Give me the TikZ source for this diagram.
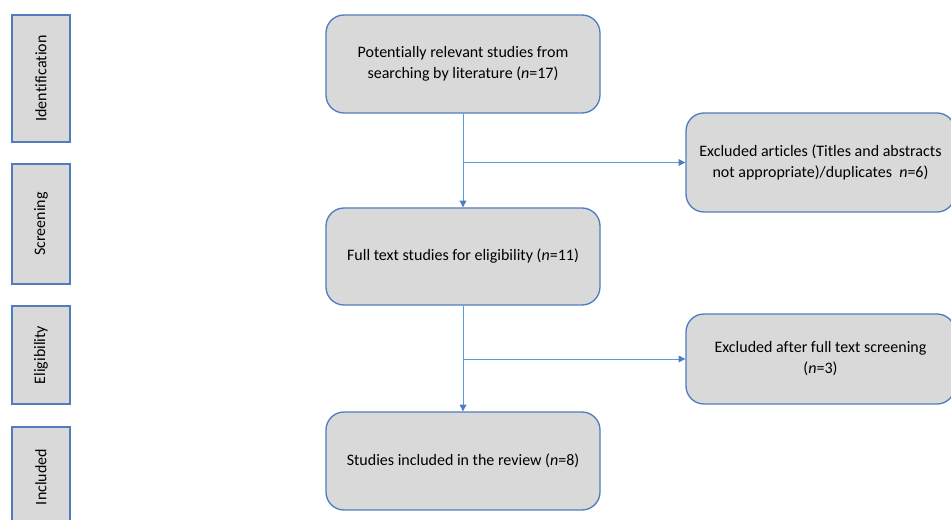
\documentclass[tikz,border=0pt]{standalone}
\usepackage{fontspec}
\setmainfont{Carlito}[Ligatures=NoCommon]
\usetikzlibrary{arrows.meta}
\definecolor{boxfill}{HTML}{D9D9D9}
\definecolor{boxline}{HTML}{4F7DBF}
\definecolor{linkblue}{HTML}{5B9BD5}
\begin{document}
\begin{tikzpicture}[x=0.75pt,y=-0.75pt,
    stage/.style={draw=boxline,fill=boxfill,line width=1pt,minimum width=43.5pt,inner sep=0pt,
      font=\fontsize{12}{15.75}\selectfont},
    stepbox/.style={draw=boxline,fill=boxfill,line width=1pt,rounded corners=13.5pt,align=center,
      minimum width=205.5pt,minimum height=73.5pt,font=\fontsize{12}{15.75}\selectfont},
    link/.style={draw=linkblue,line width=0.7pt,-{Triangle[width=5pt,length=5pt,color=boxline]}}]
      \useasboundingbox (0,0) rectangle (951,520);
      % stages on the left
      \node[stage,minimum height=95.25pt] (ident) at (41,78.5) {\rotatebox{90}{Identification}};
      \node[stage,minimum height=90pt] (screen) at (41,224) {\rotatebox{90}{Screening}};
      \node[stage,minimum height=73.5pt] (elig) at (41,355) {\rotatebox{90}{Eligibility}};
      \node[stage,minimum height=75pt] (incl) at (41,477) {\rotatebox{90}{Included}};
      % main flow
      \node[stepbox] (found) at (463,64) {Potentially relevant studies from\\searching by literature (\textit{n}=17)};
      \node[stepbox,minimum height=72.75pt] (full) at (463,256.5) {Full text studies for eligibility (\textit{n}=11)};
      \node[stepbox] (incd) at (463,461) {Studies included in the review (\textit{n}=8)};
      % exclusions
      \node[stepbox,minimum width=201.75pt,minimum height=74.25pt] (excl1) at (820.5,162.5)
        {Excluded articles (Titles and abstracts\\not appropriate)/duplicates~ \textit{n}=6)};
      \node[stepbox,minimum width=201.75pt,minimum height=67.5pt] (excl2) at (820.5,359)
        {Excluded after full text screening\\(\textit{n}=3)};
      \coordinate (b1) at (found.south |- excl1.west);
      \coordinate (b2) at (full.south |- excl2.west);
      \draw[link] (found) -- (full);
      \draw[link] (full) -- (incd);
      \draw[link] (b1) -- (excl1);
      \draw[link] (b2) -- (excl2);
\end{tikzpicture}
\end{document}
